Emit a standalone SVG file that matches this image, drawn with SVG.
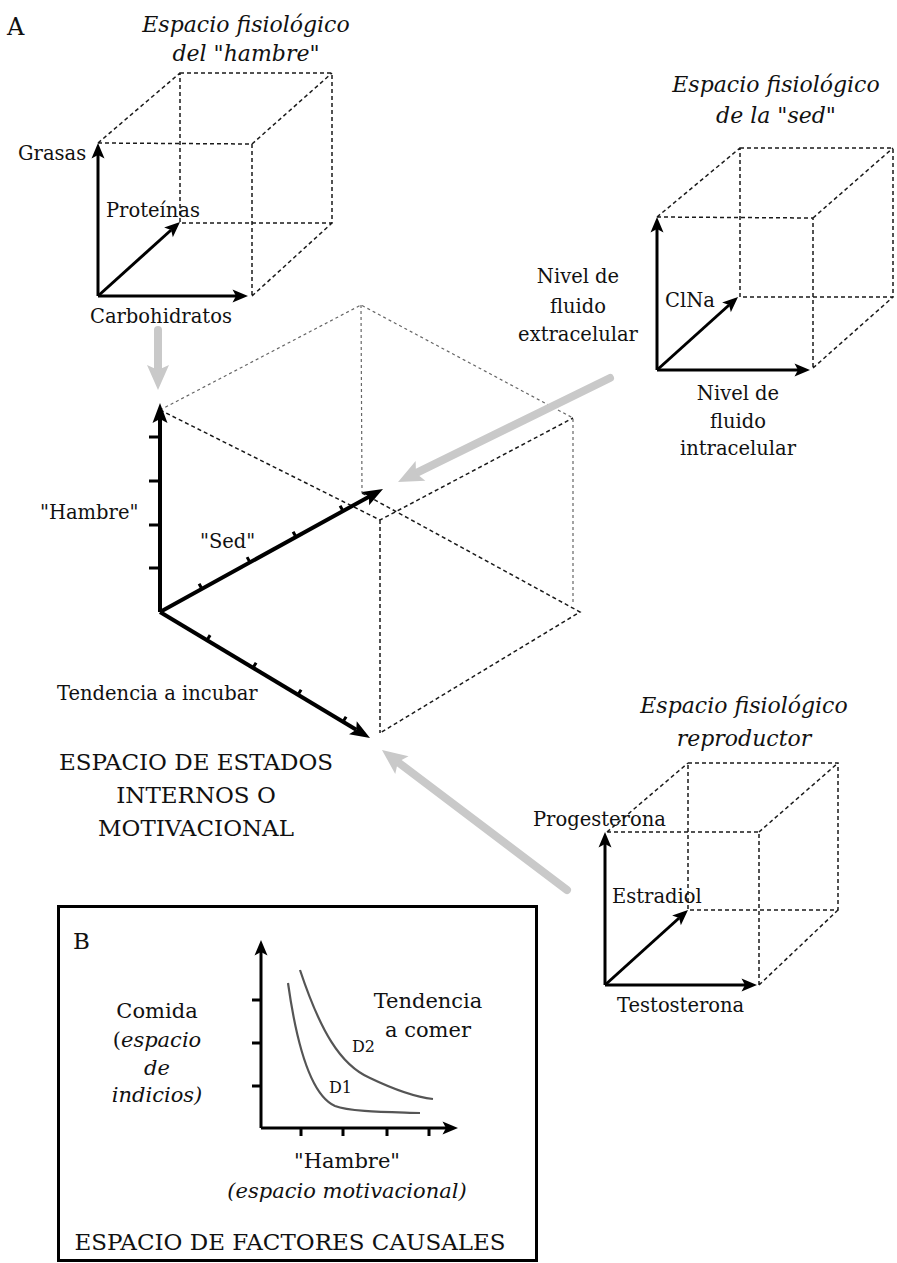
<svg xmlns="http://www.w3.org/2000/svg" width="897" height="1263" viewBox="0 0 897 1263">
<style>
text{font-family:"DejaVu Serif","Liberation Serif",serif;fill:#111}
.lbl{font-size:19.5px}
.lblb{font-size:21px}
.ttl{font-size:22px;font-style:italic}
.cap{font-size:23px}
.it{font-style:italic}
.mid{text-anchor:middle}
.dash{fill:none;stroke:#1a1a1a;stroke-width:1.5;stroke-dasharray:4 3}
.dashl{fill:none;stroke:#666;stroke-width:1.2;stroke-dasharray:3 3}
.ax{fill:none;stroke:#000;stroke-width:3;marker-end:url(#ah)}
.axb{fill:none;stroke:#000;stroke-width:4;marker-end:url(#ahb)}
.tick{fill:none;stroke:#000;stroke-width:3}
.gray{fill:none;stroke:#c9c9c9;stroke-width:8;stroke-linecap:round;marker-end:url(#ahg)}
.curve{fill:none;stroke:#555;stroke-width:2.2}
</style>
<defs>
<marker id="ah" markerUnits="userSpaceOnUse" markerWidth="20" markerHeight="16" refX="0" refY="0" orient="auto" overflow="visible">
<path d="M12,0 L-3.5,-6.5 L0,0 L-3.5,6.5 Z" fill="#000"/>
</marker>
<marker id="ahb" markerUnits="userSpaceOnUse" markerWidth="24" markerHeight="18" refX="0" refY="0" orient="auto" overflow="visible">
<path d="M16,0 L-4,-7.5 L0,0 L-4,7.5 Z" fill="#000"/>
</marker>
<marker id="ahg" markerUnits="userSpaceOnUse" markerWidth="30" markerHeight="26" refX="0" refY="0" orient="auto" overflow="visible">
<path d="M20,0 L-5,-11 L0,0 L-5,11 Z" fill="#c9c9c9"/>
</marker>
</defs>
<rect width="897" height="1263" fill="#fff"/>

<text x="7" y="35" class="cap" style="font-size:24px">A</text>

<g id="espacio-hambre">
<text x="246" y="32" class="ttl mid">Espacio fisiológico</text>
<text x="246" y="61" class="ttl mid">del "hambre"</text>
<path class="dash" d="M98,143 L252,144 L252,296 M180,73 L332,73 L332,223 L180,223 Z M98,143 L180,73 M252,144 L332,73 M252,296 L332,223"/>
<path class="ax" d="M98,296 L98,155"/>
<path class="ax" d="M98,296 L236,296"/>
<path class="ax" d="M98,296 L171.1,230"/>
<text x="18" y="160" class="lbl">Grasas</text>
<text x="106" y="217" class="lbl">Proteínas</text>
<text x="90" y="323" class="lbl">Carbohidratos</text>
</g>

<g id="espacio-sed">
<text x="776" y="92" class="ttl mid">Espacio fisiológico</text>
<text x="776" y="123" class="ttl mid">de la "sed"</text>
<path class="dash" d="M657,217 L813,218 L813,368 M740,148 L893,148 L893,297 L740,297 Z M657,217 L740,148 M813,218 L893,148 M813,368 L893,297"/>
<path class="ax" d="M657,370 L657,229"/>
<path class="ax" d="M657,370 L798,370"/>
<path class="ax" d="M657,370 L729.1,305"/>
<text x="665" y="307" class="lbl">ClNa</text>
<text x="578" y="283" class="lbl mid">Nivel de</text>
<text x="578" y="313" class="lbl mid">fluido</text>
<text x="578" y="341" class="lbl mid">extracelular</text>
<text x="738" y="400" class="lbl mid">Nivel de</text>
<text x="738" y="428" class="lbl mid">fluido</text>
<text x="738" y="455" class="lbl mid">intracelular</text>
</g>

<g id="espacio-reproductor">
<text x="744" y="713" class="ttl mid">Espacio fisiológico</text>
<text x="744" y="746" class="ttl mid">reproductor</text>
<path class="dash" d="M607,832 L759,832 L759,985 M688,763 L838,763 L838,910 L688,910 Z M607,832 L688,763 M759,832 L838,763 M759,985 L838,910"/>
<path class="ax" d="M605,985 L605,844"/>
<path class="ax" d="M605,985 L745,985"/>
<path class="ax" d="M605,985 L679.1,918"/>
<text x="533" y="826" class="lbl">Progesterona</text>
<text x="612" y="903" class="lbl">Estradiol</text>
<text x="617" y="1012" class="lbl">Testosterona</text>
</g>

<g id="espacio-motivacional">
<path class="dashl" d="M160,410 L361,305 L573,418 L573,605 M361,305 L362,493"/>
<path class="dash" d="M160,410 L380,520 L573,418 M380,520 L380,733 M362,493 L580,612 L380,733"/>
<path class="axb" d="M160,612 L160,419"/>
<path class="axb" d="M160,612 L369,496.7"/>
<path class="axb" d="M160,612 L356.3,729.8"/>
<path class="tick" d="M149,437 H160 M149,481 H160 M149,525 H160 M149,568 H160"/>
<path class="tick" d="M202,589 l-2.9,-5.3 M250,562.4 l-2.9,-5.3 M296,537 l-2.9,-5.3 M343,511 l-2.9,-5.3"/>
<path class="tick" d="M207,640.2 l3.1,-5.1 M253,667.8 l3.1,-5.1 M298,694.8 l3.1,-5.1 M343,721.8 l3.1,-5.1"/>
<text x="40" y="519" class="lbl">"Hambre"</text>
<text x="200" y="548" class="lbl">"Sed"</text>
<text x="57" y="700" class="lbl">Tendencia a incubar</text>
<text x="196" y="770" class="cap mid">ESPACIO DE ESTADOS</text>
<text x="196" y="803" class="cap mid">INTERNOS O</text>
<text x="196" y="836" class="cap mid">MOTIVACIONAL</text>
</g>

<g id="espacio-factores-causales">
<rect x="58.5" y="906.5" width="478" height="354" fill="none" stroke="#000" stroke-width="3"/>
<text x="73" y="949" class="cap">B</text>
<path class="ax" d="M261,1128 L261,952"/>
<path class="ax" d="M261,1128 L446,1128"/>
<path class="tick" d="M252,1000 H261 M252,1043 H261 M252,1086 H261 M301,1128 V1136 M343,1128 V1136 M387,1128 V1136 M429,1128 V1136"/>
<path class="curve" d="M288,983 C296,1040 310,1095 335,1106 C350,1112 390,1112 420,1113"/>
<path class="curve" d="M300,970 C320,1030 340,1065 370,1078 C395,1090 415,1097 433,1099"/>
<text x="352" y="1052" style="font-size:16px">D2</text>
<text x="329" y="1093" style="font-size:16px">D1</text>
<text x="157" y="1018" class="lblb mid">Comida</text>
<text x="157" y="1047" class="lblb mid">(<tspan class="it">espacio</tspan></text>
<text x="157" y="1075" class="lblb mid it">de</text>
<text x="157" y="1102" class="lblb mid it">indicios)</text>
<text x="428" y="1008" class="lblb mid">Tendencia</text>
<text x="428" y="1037" class="lblb mid">a comer</text>
<text x="347" y="1168" class="lblb mid">"Hambre"</text>
<text x="347" y="1198" class="lblb mid it">(espacio motivacional)</text>
<text x="290" y="1250" class="cap mid">ESPACIO DE FACTORES CAUSALES</text>
</g>

<g id="connectors">
<path class="gray" d="M158,330 L158,370"/>
<path class="gray" d="M610,378 L416,473.2"/>
<path class="gray" d="M567,890 L397.9,762.1"/>
</g>
</svg>
